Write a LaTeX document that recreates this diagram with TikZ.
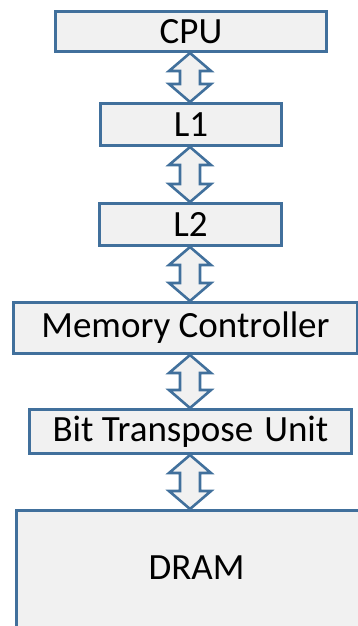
\documentclass[tikz,border=0pt]{standalone}
\usepackage{fontspec}
\setmainfont{Carlito}
\usetikzlibrary{calc}
\definecolor{edgeblue}{HTML}{41709C}
\definecolor{boxgray}{HTML}{F1F1F1}
\tikzset{
  block/.style={draw=edgeblue, fill=boxgray, line width=3pt, rectangle,
    inner sep=0pt, font=\fontsize{37}{42}\selectfont, text=black},
  dblarrow/.style={draw=edgeblue, fill=boxgray, line width=2.6pt, line join=miter},
}
% hollow two-headed arrow between two stacked blocks
\newcommand\linkarrow[2]{%
  \path (#1.south -| axis) coordinate (p) (#2.north -| axis) coordinate (q);
  \draw[dblarrow] (p) -- ($(p)+(21,18)$) -- ($(p)+(10,18)$) -- ($(q)+(10,-18)$)
    -- ($(q)+(21,-18)$) -- (q) -- ($(q)+(-21,-18)$) -- ($(q)+(-10,-18)$)
    -- ($(p)+(-10,18)$) -- ($(p)+(-21,18)$) -- cycle;
}
\begin{document}
\begin{tikzpicture}[x=1pt, y=-1pt]
  \useasboundingbox (0,0) rectangle (358,626);
  \clip (0,0) rectangle (358,626);
  \coordinate (axis) at (190,0);

  \node[block, minimum width=271pt, minimum height=40pt] (cpu) at (191,31.5) {CPU};
  \node[block, minimum width=181pt, minimum height=42pt] (l1) at (191,124.5) {L1};
  \node[block, minimum width=182pt, minimum height=42pt] (l2) at (190.5,224.5) {L2};
  \node[block, minimum width=344pt, minimum height=51pt] (mc) at (185.5,328) {Memory Controller};
  \node[block, minimum width=322pt, minimum height=44pt] (btu) at (190.5,431.5) {Bit Transpose\hspace{0.3em}Unit};
  \node[block, minimum width=360pt, minimum height=160pt, text height=22pt, text depth=44pt]
    (dram) at (196.5,590.5) {DRAM};

  \linkarrow{cpu}{l1}
  \linkarrow{l1}{l2}
  \linkarrow{l2}{mc}
  \linkarrow{mc}{btu}
  \linkarrow{btu}{dram}
\end{tikzpicture}
\end{document}
